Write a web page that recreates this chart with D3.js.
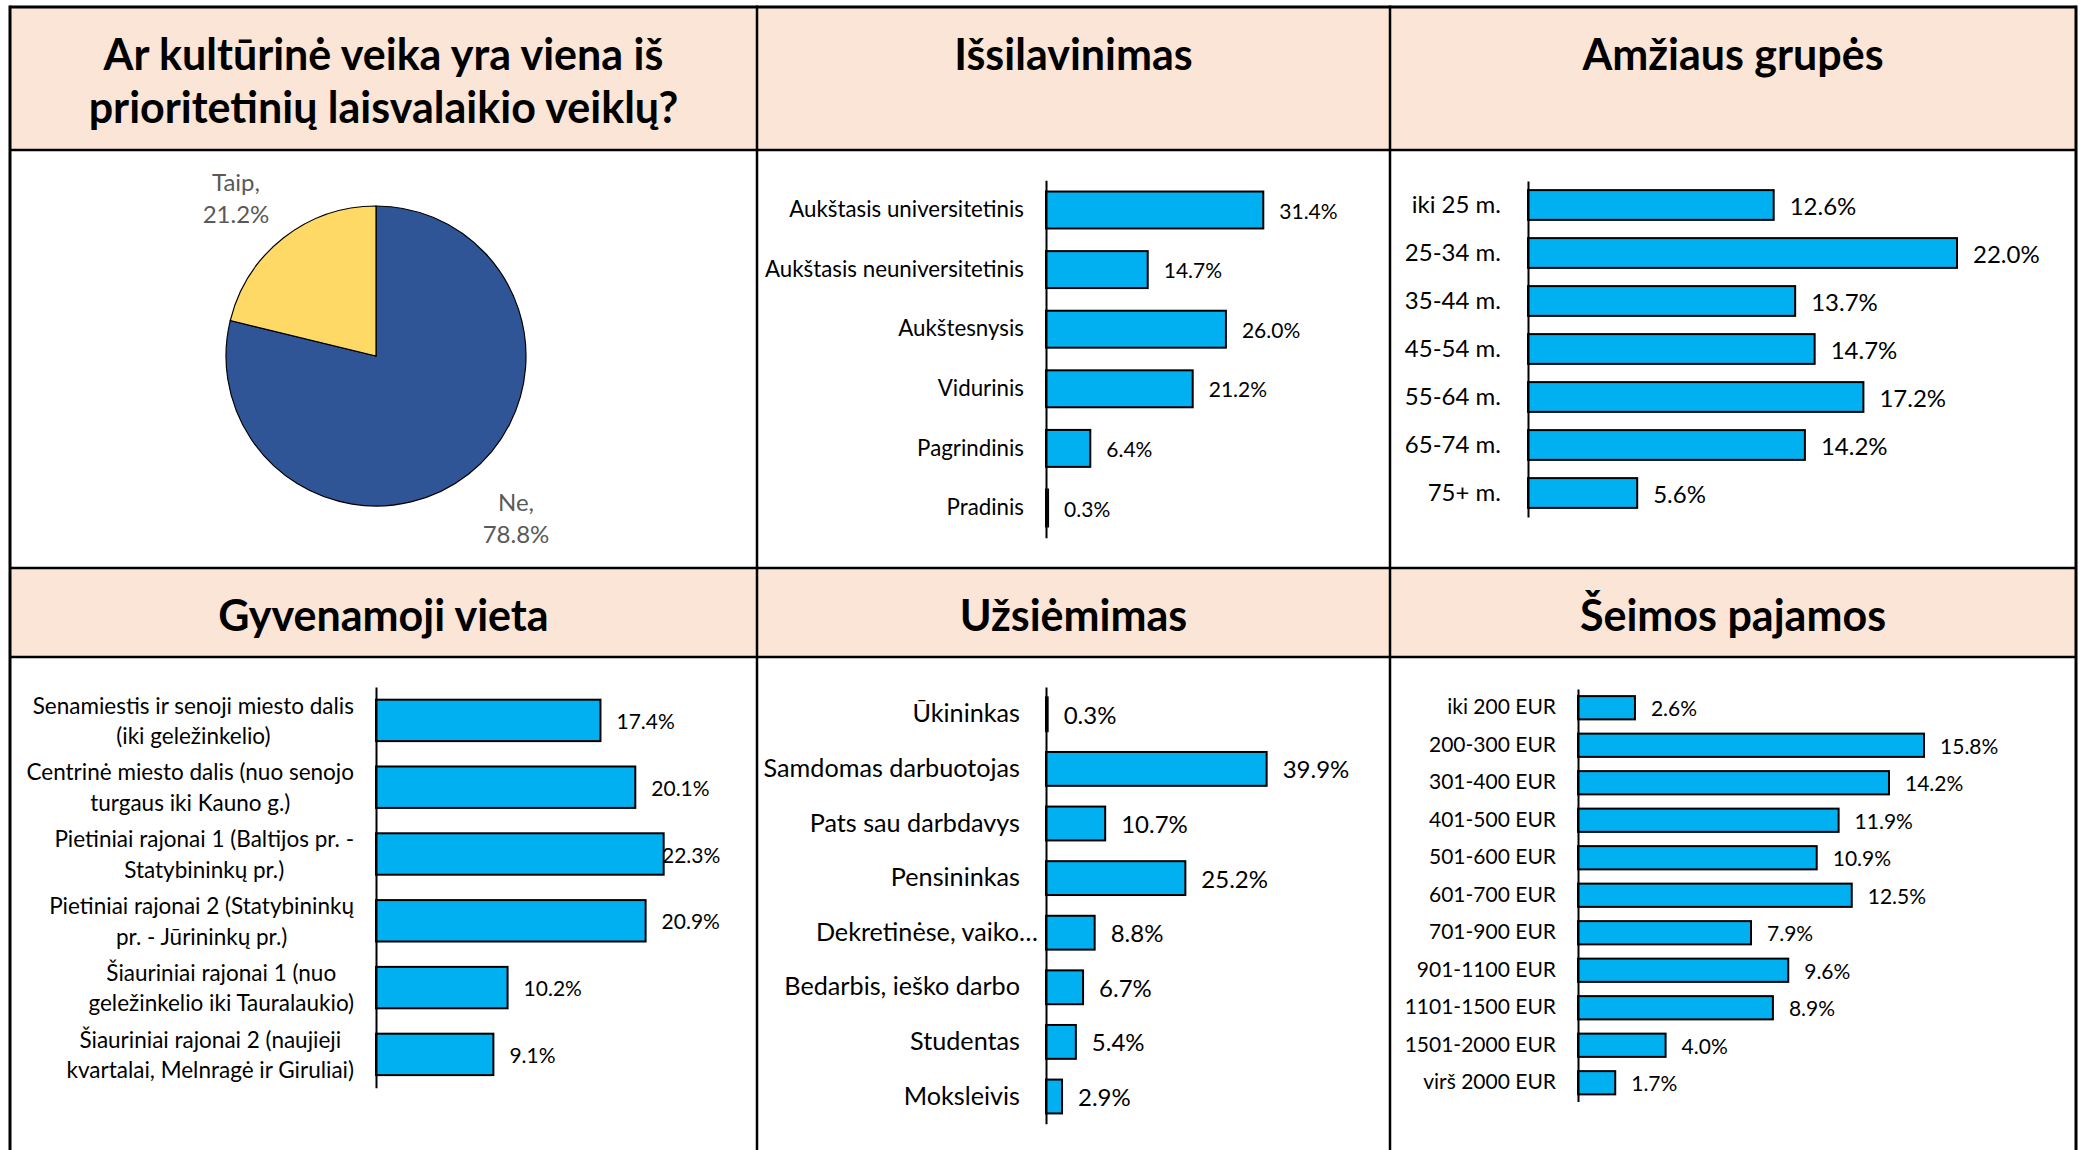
<!DOCTYPE html>
<html>
<head>
<meta charset="utf-8">
<script src="https://cdn.jsdelivr.net/npm/d3@7"></script>
<style>
  body { margin: 0; background: #fff; }
  text { font-family: Lato, "Open Sans", sans-serif; }
</style>
</head>
<body>
<div id="chart"></div>
<script>
// chart data
var pieLabels = ["Ne", "Taip"];
var pieValues = [78.8, 21.2];

var eduLabels = ["Aukštasis universitetinis", "Aukštasis neuniversitetinis", "Aukštesnysis",
  "Vidurinis", "Pagrindinis", "Pradinis"];
var eduValues = [31.4, 14.7, 26.0, 21.2, 6.4, 0.3];

var ageLabels = ["iki 25 m.", "25-34 m.", "35-44 m.", "45-54 m.", "55-64 m.", "65-74 m.", "75+ m."];
var ageValues = [12.6, 22.0, 13.7, 14.7, 17.2, 14.2, 5.6];

var placeLabels = ["Senamiestis ir senoji miesto dalis|(iki geležinkelio)",
  "Centrinė miesto dalis (nuo senojo|turgaus iki Kauno g.)",
  "Pietiniai rajonai 1 (Baltijos pr. -|Statybininkų pr.)",
  "Pietiniai rajonai 2 (Statybininkų|pr. - Jūrininkų pr.)",
  "Šiauriniai rajonai 1 (nuo|geležinkelio iki Tauralaukio)",
  "Šiauriniai rajonai 2 (naujieji|kvartalai, Melnragė ir Giruliai)"];
var placeValues = [17.4, 20.1, 22.3, 20.9, 10.2, 9.1];

var jobLabels = ["Ūkininkas", "Samdomas darbuotojas", "Pats sau darbdavys", "Pensininkas",
  "Dekretinėse, vaiko…", "Bedarbis, ieško darbo", "Studentas", "Moksleivis"];
var jobValues = [0.3, 39.9, 10.7, 25.2, 8.8, 6.7, 5.4, 2.9];

var incomeLabels = ["iki 200 EUR", "200-300 EUR", "301-400 EUR", "401-500 EUR", "501-600 EUR",
  "601-700 EUR", "701-900 EUR", "901-1100 EUR", "1101-1500 EUR", "1501-2000 EUR", "virš 2000 EUR"];
var incomeValues = [2.6, 15.8, 14.2, 11.9, 10.9, 12.5, 7.9, 9.6, 8.9, 4.0, 1.7];

var titles = [["Ar kultūrinė veika yra viena iš", "prioritetinių laisvalaikio veiklų?"],
  ["Išsilavinimas"], ["Amžiaus grupės"],
  ["Gyvenamoji vieta"], ["Užsiėmimas"], ["Šeimos pajamos"]];

// layout
var svgWidth = 2085;
var svgHeight = 1150;
var cols = [10, 757, 1390, 2076];
var headTop = [7, 568];
var headBottom = [150, 657];

var svg = d3.select("#chart")
  .append("svg")
  .attr("width", svgWidth)
  .attr("height", svgHeight);

// header cells
for (var r = 0; r < 2; r++) {
  for (var c = 0; c < 3; c++) {
    svg.append("rect")
      .attr("x", cols[c])
      .attr("y", headTop[r])
      .attr("width", cols[c + 1] - cols[c])
      .attr("height", headBottom[r] - headTop[r])
      .attr("fill", "#FBE5D6");
  }
}

// grid lines
[headTop[0], headBottom[0], headTop[1], headBottom[1]].forEach(function(y, i) {
  svg.append("line")
    .attr("x1", cols[0]).attr("x2", cols[3])
    .attr("y1", y).attr("y2", y)
    .attr("stroke", "#000")
    .attr("stroke-width", i == 0 ? 3 : 2.5);
});
cols.forEach(function(x, i) {
  svg.append("line")
    .attr("x1", x).attr("x2", x)
    .attr("y1", headTop[0] - 1.5).attr("y2", svgHeight)
    .attr("stroke", "#000")
    .attr("stroke-width", (i == 0 || i == 3) ? 3 : 2.5);
});

// titles
titles.forEach(function(t, i) {
  var cx = (cols[i % 3] + cols[i % 3 + 1]) / 2;
  var cy = i < 3 ? 53 : 614;
  t.forEach(function(line, j) {
    svg.append("text")
      .attr("x", cx)
      .attr("y", cy + j * 53)
      .attr("text-anchor", "middle")
      .attr("dominant-baseline", "central")
      .attr("font-size", 43)
      .attr("font-weight", "bold")
      .attr("fill", "#000")
      .text(line);
  });
});

// pie
var pieColors = ["#2F5597", "#FFD966"];
var pieNudge = [[9, -5], [-9, 8]];   // best-fit label shift, like Excel
var pieCx = 376, pieCy = 356, pieR = 150;
var pieGroup = svg.append("g").attr("transform", `translate(${pieCx}, ${pieCy})`);
var pie = d3.pie().sort(null).value(function(d) { return d; });
var arcs = pie(pieValues);
var arc = d3.arc().innerRadius(0).outerRadius(pieR);
var labelArc = d3.arc().innerRadius(212).outerRadius(212);

pieGroup.selectAll("path")
  .data(arcs)
  .enter()
  .append("path")
  .attr("d", arc)
  .attr("fill", function(d, i) { return pieColors[i]; })
  .attr("stroke", "#000")
  .attr("stroke-width", 1.2);

arcs.forEach(function(d, i) {
  var p = labelArc.centroid(d);
  var px = p[0] + pieNudge[i][0], py = p[1] + pieNudge[i][1];
  var lab = pieGroup.append("text")
    .attr("text-anchor", "middle")
    .attr("font-size", 24)
    .attr("fill", "#595959");
  lab.append("tspan").attr("x", px).attr("y", py - 16).attr("dominant-baseline", "central")
    .text(pieLabels[i] + ",");
  lab.append("tspan").attr("x", px).attr("y", py + 16).attr("dominant-baseline", "central")
    .text(pieValues[i].toFixed(1) + "%");
});

// horizontal bar charts
function barChart(labels, values, o) {
  var maxVal = d3.max(values);
  var xScale = d3.scaleLinear()
    .domain([0, maxVal])
    .range([o.axisX, o.axisX + o.ppu * maxVal]);

  var yScale = d3.scaleBand()
    .domain(labels)
    .range([o.y0, o.y0 + o.step * labels.length])
    .paddingInner(0.38)
    .paddingOuter(0.19);

  var g = svg.append("g");

  g.selectAll("rect")
    .data(labels)
    .enter()
    .append("rect")
    .attr("x", o.axisX)
    .attr("y", function(d) { return yScale(d); })
    .attr("width", function(d, i) { return xScale(values[i]) - o.axisX; })
    .attr("height", yScale.bandwidth())
    .attr("fill", "#00B0F0")
    .attr("stroke", "#000")
    .attr("stroke-width", 2);

  // value labels
  g.selectAll(".val")
    .data(labels)
    .enter()
    .append("text")
    .attr("class", "val")
    .attr("x", function(d, i) {
      var vx = xScale(values[i]) + 16;
      return o.maxLabelX ? Math.min(vx, o.maxLabelX) : vx;
    })
    .attr("y", function(d) { return yScale(d) + yScale.bandwidth() / 2; })
    .attr("dominant-baseline", "central")
    .attr("font-size", o.valueSize)
    .attr("fill", "#000")
    .text(function(d, i) { return values[i].toFixed(1) + "%"; });

  // category axis
  var axis = g.append("g")
    .attr("transform", `translate(${o.axisX}, 0)`)
    .call(d3.axisLeft(yScale).tickSize(0).tickSizeOuter(0).tickPadding(o.pad));

  axis.attr("font-family", null).attr("font-size", o.fontSize);
  axis.select(".domain").attr("stroke", "#000").attr("stroke-width", 2);
  axis.selectAll(".tick text")
    .attr("fill", "#000")
    .attr("font-size", o.fontSize);

  // truncated labels sit closer to the axis
  axis.selectAll(".tick text")
    .filter(function(d) { return d.slice(-1) == "…"; })
    .attr("x", -8);

  // wrap two-line labels, lines centred inside a right-aligned block
  axis.selectAll(".tick text").each(function(d) {
    var parts = d.split("|");
    if (parts.length < 2) return;
    var t = d3.select(this).text("").attr("dy", null);
    var spans = parts.map(function(p, j) {
      return t.append("tspan")
        .attr("y", (j - (parts.length - 1) / 2) * o.lineH)
        .attr("dominant-baseline", "central")
        .text(p);
    });
    var w = d3.max(spans, function(s) { return s.node().getComputedTextLength(); });
    t.attr("text-anchor", "middle");
    spans.forEach(function(s) { s.attr("x", -o.pad - w / 2); });
  });
}

barChart(eduLabels, eduValues,
  { axisX: 1046, ppu: 6.92, y0: 180.2, step: 59.6, pad: 22, fontSize: 22.3, valueSize: 21 });
barChart(ageLabels, ageValues,
  { axisX: 1528, ppu: 19.5, y0: 181, step: 48, pad: 27, fontSize: 24, valueSize: 24 });
barChart(placeLabels, placeValues,
  { axisX: 376, ppu: 12.9, y0: 687, step: 66.8, pad: 22, fontSize: 22.5, valueSize: 21,
    lineH: 30.6, maxLabelX: 662 });
barChart(jobLabels, jobValues,
  { axisX: 1046, ppu: 5.53, y0: 687, step: 54.6, pad: 26, fontSize: 25.2, valueSize: 24 });
barChart(incomeLabels, incomeValues,
  { axisX: 1578, ppu: 21.9, y0: 689, step: 37.5, pad: 22, fontSize: 21, valueSize: 21 });
</script>
</body>
</html>
